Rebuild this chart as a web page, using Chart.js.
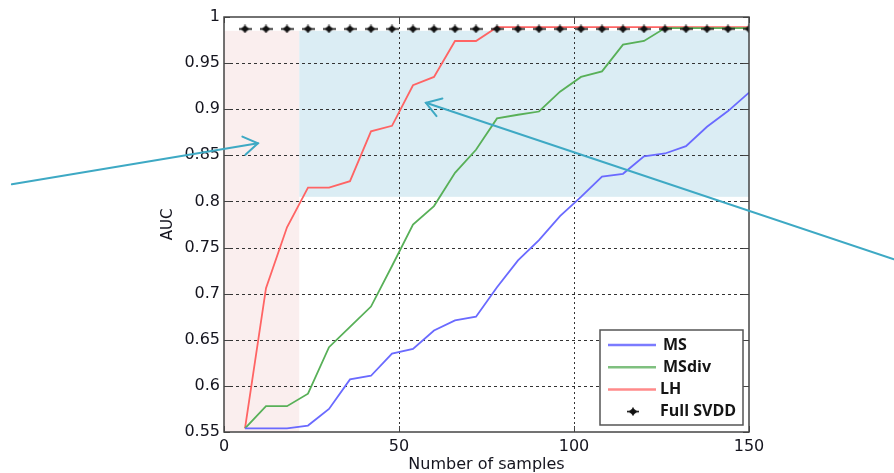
<!DOCTYPE html>
<html>
<head>
<meta charset="utf-8">
<script src="https://cdn.jsdelivr.net/npm/chart.js@4.4.1/dist/chart.umd.min.js"></script>
<style>
  html, body { margin: 0; padding: 0; background: #fff; }
  #wrap { width: 894px; height: 473px; }
</style>
</head>
<body>
<div id="wrap"><canvas id="c" width="894" height="473"></canvas></div>
<script>
// ---- data ----
const samples = [6, 12, 18, 24, 30, 36, 42, 48, 54, 60, 66, 72, 78, 84, 90, 96, 102, 108, 114, 120, 126, 132, 138, 144, 150];
const msValues = [0.554, 0.554, 0.554, 0.557, 0.575, 0.607, 0.611, 0.635, 0.640, 0.660, 0.671, 0.675, 0.707, 0.736, 0.758, 0.784, 0.805, 0.827, 0.830, 0.849, 0.852, 0.860, 0.881, 0.898, 0.918];
const msdivValues = [0.554, 0.578, 0.578, 0.5915, 0.642, 0.664, 0.686, 0.730, 0.775, 0.795, 0.831, 0.856, 0.890, 0.894, 0.8975, 0.919, 0.935, 0.941, 0.970, 0.974, 0.988, 0.988, 0.988, 0.988, 0.988];
const lhValues = [0.554, 0.706, 0.772, 0.815, 0.815, 0.822, 0.876, 0.882, 0.926, 0.935, 0.974, 0.974, 0.989, 0.989, 0.989, 0.989, 0.989, 0.989, 0.989, 0.989, 0.989, 0.989, 0.989, 0.989, 0.989];
const fullSvddValues = [0.987, 0.987, 0.987, 0.987, 0.987, 0.987, 0.987, 0.987, 0.987, 0.987, 0.987, 0.987, 0.987, 0.987, 0.987, 0.987, 0.987, 0.987, 0.987, 0.987, 0.987, 0.987, 0.987, 0.987, 0.987];
const seriesLabels = ['MS', 'MSdiv', 'LH', 'Full SVDD'];
const xTickLabels = ['0', '50', '100', '150'];
const yTickLabels = ['0.55', '0.6', '0.65', '0.7', '0.75', '0.8', '0.85', '0.9', '0.95', '1'];
const xTitle = 'Number of samples';
const yTitle = 'AUC';
// highlighted regions, in data units: [xFrom, xTo, yFrom, yTo]
const pinkRegion = [0, 21.5, 0.55, 0.985];
const blueRegion = [21.5, 150, 0.805, 0.985];
// annotation arrows, in data units: [xStart, yStart, xTip, yTip]
const arrowLeft = [-60.6, 0.8186, 9.7, 0.863];
const arrowRight = [191.4, 0.7373, 57.7, 0.907];

// ---- marker for Full SVDD ----
function makeMarker(w, h) {
  const c = document.createElement('canvas');
  c.width = w; c.height = h;
  const g = c.getContext('2d');
  g.fillStyle = '#111';
  g.strokeStyle = '#111';
  g.lineWidth = 1.6;
  g.beginPath(); g.moveTo(0, h / 2); g.lineTo(w, h / 2); g.stroke();
  g.lineWidth = 1.4;
  g.beginPath(); g.moveTo(w / 2, 0.5); g.lineTo(w / 2, h - 0.5); g.stroke();
  g.beginPath();
  g.moveTo(w / 2 - 4.5, h / 2); g.lineTo(w / 2, h / 2 - 3.5);
  g.lineTo(w / 2 + 4.5, h / 2); g.lineTo(w / 2, h / 2 + 3.5);
  g.closePath(); g.fill();
  return c;
}
const marker = makeMarker(13, 9);
const legendMarker = makeMarker(12, 9);

const pts = (ys) => samples.map((x, i) => ({ x: x, y: ys[i] }));

const plotLeft = 224, plotTop = 17;

const decor = {
  id: 'decor',
  beforeDatasetsDraw(chart) {
    const { ctx, scales: { x, y } } = chart;
    ctx.save();
    const rect = (r, color) => {
      const x0 = x.getPixelForValue(r[0]), x1 = x.getPixelForValue(r[1]);
      const y0 = y.getPixelForValue(r[2]), y1 = y.getPixelForValue(r[3]);
      ctx.fillStyle = color;
      ctx.fillRect(x0, y1, x1 - x0, y0 - y1);
    };
    rect(pinkRegion, 'rgba(250,236,236,0.9)');
    rect(blueRegion, 'rgb(219,237,244)');
    ctx.strokeStyle = '#333';
    ctx.lineWidth = 1;
    ctx.setLineDash([3, 3]);
    const a = chart.chartArea;
    y.ticks.forEach((t, i) => {
      if (i === 0 || i === y.ticks.length - 1) return;
      const py = Math.round(y.getPixelForValue(t.value)) + 0.5;
      ctx.beginPath(); ctx.moveTo(a.left, py); ctx.lineTo(a.right, py); ctx.stroke();
    });
    ctx.setLineDash([2, 3]);
    x.ticks.forEach((t, i) => {
      if (i === 0 || i === x.ticks.length - 1) return;
      const px = Math.round(x.getPixelForValue(t.value)) + 0.5;
      ctx.beginPath(); ctx.moveTo(px, a.top); ctx.lineTo(px, a.bottom); ctx.stroke();
    });
    ctx.restore();
  },
  afterDatasetsDraw(chart) {
    const { ctx, scales: { x, y } } = chart;
    const a = chart.chartArea;
    ctx.save();
    ctx.strokeStyle = '#444';
    ctx.lineWidth = 1.5;
    ctx.setLineDash([]);
    ctx.strokeRect(a.left, a.top, a.right - a.left, a.bottom - a.top);
    ctx.lineWidth = 1;
    y.ticks.forEach((t) => {
      const py = Math.round(y.getPixelForValue(t.value)) + 0.5;
      ctx.beginPath(); ctx.moveTo(a.left, py); ctx.lineTo(a.left + 6, py); ctx.stroke();
      ctx.beginPath(); ctx.moveTo(a.right, py); ctx.lineTo(a.right - 6, py); ctx.stroke();
    });
    x.ticks.forEach((t) => {
      const px = Math.round(x.getPixelForValue(t.value)) + 0.5;
      ctx.beginPath(); ctx.moveTo(px, a.bottom); ctx.lineTo(px, a.bottom - 6); ctx.stroke();
      ctx.beginPath(); ctx.moveTo(px, a.top); ctx.lineTo(px, a.top + 6); ctx.stroke();
    });
    // legend
    const bw = 143, bh = 95;
    const bx = a.right - 6 - bw, by = a.bottom - 7 - bh;
    ctx.fillStyle = '#fff';
    ctx.fillRect(bx, by, bw, bh);
    ctx.strokeStyle = '#555';
    ctx.lineWidth = 1.5;
    ctx.strokeRect(bx, by, bw, bh);
    const legendColors = ['#7b7bff', '#7fc07f', '#ff8a8a'];
    ctx.font = 'bold 16px "Open Sans"';
    ctx.textBaseline = 'middle';
    ctx.textAlign = 'left';
    seriesLabels.forEach((lab, i) => {
      const ly = by + 15 + i * 22.2;
      if (i < 3) {
        ctx.strokeStyle = legendColors[i];
        ctx.lineWidth = 2.5;
        ctx.beginPath(); ctx.moveTo(bx + 8, ly); ctx.lineTo(bx + 56, ly); ctx.stroke();
      } else {
        ctx.drawImage(legendMarker, bx + 33 - 6, ly - 4.5);
      }
      ctx.fillStyle = '#151515';
      ctx.fillText(lab, bx + (i === 0 || i === 1 ? 63 : 60), ly);
    });
    const drawArrow = (ar) => {
      const sx = x.getPixelForValue(ar[0]), sy = y.getPixelForValue(ar[1]);
      const tx = x.getPixelForValue(ar[2]), ty = y.getPixelForValue(ar[3]);
      const ang = Math.atan2(sy - ty, sx - tx);
      const L = 17, spread = 33 * Math.PI / 180;
      ctx.strokeStyle = '#3ea9c4';
      ctx.lineWidth = 2;
      ctx.lineCap = 'round';
      ctx.beginPath(); ctx.moveTo(sx, sy); ctx.lineTo(tx, ty); ctx.stroke();
      ctx.beginPath();
      ctx.moveTo(tx + L * Math.cos(ang - spread), ty + L * Math.sin(ang - spread));
      ctx.lineTo(tx, ty);
      ctx.lineTo(tx + L * Math.cos(ang + spread), ty + L * Math.sin(ang + spread));
      ctx.stroke();
    };
    drawArrow(arrowLeft);
    drawArrow(arrowRight);
    ctx.restore();
  }
};

new Chart(document.getElementById('c'), {
  type: 'line',
  data: {
    datasets: [
      { label: seriesLabels[3], data: pts(fullSvddValues), showLine: false, pointStyle: marker, pointRadius: 6, order: 0 },
      { label: seriesLabels[0], data: pts(msValues), borderColor: '#6a6aff', borderWidth: 1.8, pointRadius: 0, order: 1 },
      { label: seriesLabels[1], data: pts(msdivValues), borderColor: '#58b058', borderWidth: 1.8, pointRadius: 0, order: 2 },
      { label: seriesLabels[2], data: pts(lhValues), borderColor: '#ff6464', borderWidth: 1.8, pointRadius: 0, order: 3 }
    ]
  },
  options: {
    responsive: false,
    animation: false,
    events: [],
    layout: { padding: { left: 155, top: plotTop, right: 145, bottom: 0 } },
    elements: { line: { tension: 0 } },
    plugins: { legend: { display: false }, tooltip: { enabled: false } },
    scales: {
      x: {
        type: 'linear', min: 0, max: 150,
        afterFit: (s) => { s.height = 41; },
        ticks: {
          stepSize: 50, padding: 5, color: '#14141e',
          font: { family: '"DejaVu Sans"', size: 16 },
          maxRotation: 0,
          callback: (v, i) => xTickLabels[i]
        },
        grid: { display: false, drawTicks: false },
        border: { display: false },
        title: { display: true, text: xTitle, color: '#14141e', font: { family: '"DejaVu Sans"', size: 16, lineHeight: 1.0 }, padding: { top: 0, bottom: 0 } }
      },
      y: {
        type: 'linear', min: 0.55, max: 1,
        afterFit: (s) => { s.width = plotLeft - 155; },
        ticks: {
          stepSize: 0.05, padding: 4, color: '#14141e',
          font: { family: '"DejaVu Sans"', size: 16 },
          callback: (v, i) => yTickLabels[i]
        },
        grid: { display: false, drawTicks: false },
        border: { display: false },
        title: { display: true, text: yTitle, color: '#14141e', font: { family: '"DejaVu Sans"', size: 15 }, padding: { top: 4, bottom: 0 } }
      }
    }
  },
  plugins: [decor]
});
</script>
</body>
</html>
